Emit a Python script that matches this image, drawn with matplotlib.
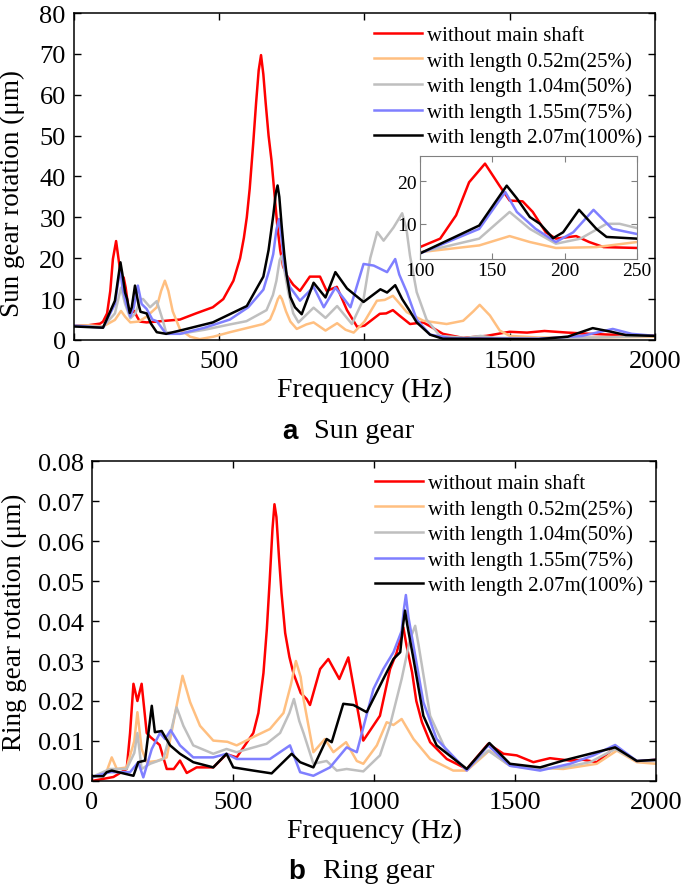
import numpy as np
import matplotlib
matplotlib.use('Agg')
from matplotlib import pyplot as plt

plt.rcParams['font.family'] = ['Liberation Serif', 'DejaVu Serif']

labels = ['without main shaft', 'with length 0.52m(25%)', 'with length 1.04m(50%)',
          'with length 1.55m(75%)', 'with length 2.07m(100%)']
colors = ['#ff0000', '#ffbf80', '#bfbfbf', '#7f7fff', '#000000']

# ---- sun gear (top), frequency in Hz, rotation in um
sun_red_f = [0, 50, 90, 100, 114, 125, 134, 145, 155, 162, 171, 178, 187, 194, 208, 217, 227, 250, 300, 365,
             420, 478, 514, 549, 572, 585, 595, 605, 617, 627, 636, 644, 652, 660, 670, 680, 690, 700, 710,
             720, 735, 755, 778, 812, 847, 870, 905, 940, 975, 1000, 1053, 1075, 1098, 1120, 1157, 1202,
             1230, 1270, 1340, 1420, 1500, 1560, 1620, 1700, 1776, 1850, 1900, 2000]
sun_red_v = [3.5, 3.6, 4.0, 4.5, 6.5, 12, 19.8, 24.2, 19, 15.5, 15.3, 12.8, 8, 6.5, 7.1, 5.7, 4.5, 4.3, 4.6, 5.0,
             6.5, 8, 10, 14.5, 20, 25, 30, 37, 48, 58, 66, 69.7, 65, 58, 50, 44, 36, 28, 22,
             18, 15.5, 13.5, 12, 15.5, 15.5, 12, 13, 7.3, 3.2, 3.5, 6.4, 6.5, 7.3, 6, 3.9, 4.3,
             3.2, 1.5, 0.5, 1.0, 2.0, 1.8, 2.2, 1.8, 1.5, 1.3, 1.2, 1.0]

sun_org_f = [0, 50, 100, 141, 162, 176, 194, 222, 250, 285, 300, 313, 325, 340, 365, 400, 433, 480, 537, 600,
             652, 675, 690, 702, 709, 716, 730, 745, 767, 800, 825, 866, 906, 935, 963, 1000, 1043, 1070,
             1098, 1120, 1146, 1203, 1283, 1340, 1375, 1397, 1432, 1466, 1500, 1600, 1800, 2000]
sun_org_v = [3.5, 3.6, 3.3, 4.9, 7.1, 5.7, 4.3, 4.5, 5.7, 8, 12, 14.5, 12, 7, 2.6, 0.8, 0.2, 0.8, 1.9, 3,
             3.9, 5, 7.5, 10, 10.8, 10, 7, 4.5, 2.7, 3.8, 4.3, 2.3, 4.1, 2.5, 1.8, 4.5, 9.6, 9.8,
             10.8, 9, 6.8, 4.7, 3.9, 4.7, 7, 8.6, 6, 2.3, 1.0, 0.6, 0.6, 0.8]

sun_gry_f = [0, 100, 141, 162, 176, 194, 211, 229, 238, 262, 285, 305, 317, 365, 450, 537, 594, 663, 685, 697,
             708, 715, 722, 738, 755, 773, 825, 866, 906, 957, 997, 1020, 1044, 1066, 1100, 1130, 1145, 1157,
             1180, 1214, 1260, 1350, 1400, 1450, 1600, 1800, 2000]
sun_gry_v = [3.5, 3.2, 6.5, 12.8, 8.8, 5.3, 6.5, 10, 10, 8, 9.5, 5, 1.9, 1.5, 2.5, 3.8, 4.6, 7.3, 11, 14.5,
             19.5, 20.6, 18, 11.6, 6.5, 4.3, 7.9, 5.4, 8.3, 3.9, 10, 20, 26.4, 24.3, 27.5, 31, 27, 20.6,
             11.7, 5, 1.0, 0.5, 1.0, 0.5, 0.4, 0.6, 1.0]

sun_blu_f = [0, 100, 141, 159, 167, 180, 194, 206, 220, 233, 250, 270, 285, 317, 365, 450, 537, 600, 652, 672,
             686, 697, 706, 713, 725, 743, 778, 825, 860, 900, 952, 997, 1032, 1078, 1106, 1120, 1146, 1180,
             1226, 1300, 1600, 1750, 1855, 1920, 2000]
sun_blu_v = [3.5, 3.0, 8.8, 17.5, 12.8, 8.8, 5.7, 8, 13.3, 8.8, 7.6, 5, 4.6, 1.5, 1.5, 3, 5, 8, 12.3, 17,
             21, 27, 29.6, 26, 18, 13, 9.6, 13, 8, 12.8, 8, 18.6, 18.2, 16.6, 19.8, 16, 11.7, 5,
             1.3, 0.4, 0.3, 1.0, 2.7, 1.5, 1.0]

sun_blk_f = [0, 100, 141, 160, 167, 176, 183, 192, 199, 210, 222, 229, 250, 265, 285, 317, 365, 478, 595, 652,
             670, 686, 695, 701, 707, 715, 724, 732, 745, 761, 784, 825, 866, 900, 940, 997, 1055, 1078, 1106,
             1130, 1157, 1180, 1226, 1270, 1600, 1700, 1786, 1850, 1900, 2000]
sun_blk_v = [3.3, 3.0, 9.6, 19, 16, 11.6, 10, 6.6, 8, 13.3, 8.8, 6.9, 6.5, 4, 1.9, 1.5, 2.3, 4.3, 8.3, 15.5,
             22, 30.4, 36, 37.8, 35, 28, 21, 16, 10.5, 8, 6.3, 14, 10.4, 16.6, 12.6, 9.3, 12.4, 11.6, 13.4,
             10, 7, 4.3, 1.3, 0.3, 0.2, 0.8, 2.9, 2.0, 1.2, 1.0]

# ---- ring gear (bottom)
ring_red_f = [0, 76, 123, 135, 147, 161, 176, 194, 207, 240, 265, 290, 312, 336, 371, 430, 477, 513, 572, 590,
              608, 620, 630, 640, 647, 654, 663, 672, 685, 700, 714, 740, 761, 773, 809, 838, 877, 909, 939,
              962, 1021, 1057, 1080, 1095, 1104, 1115, 1135, 1150, 1170, 1199, 1258, 1329, 1405, 1459, 1506,
              1565, 1624, 1695, 1742, 1790, 1855, 1932, 2000]
ring_red_v = [0.0, 0.001, 0.003, 0.012, 0.0243, 0.020, 0.0243, 0.012, 0.011, 0.009, 0.003, 0.003, 0.0051,
              0.002, 0.0034, 0.0034, 0.0067, 0.0059, 0.012, 0.017, 0.027, 0.038, 0.050, 0.063, 0.0692,
              0.066, 0.056, 0.047, 0.037, 0.031, 0.027, 0.022, 0.0205, 0.019, 0.028, 0.0305, 0.0255,
              0.0309, 0.019, 0.0101, 0.0163, 0.028, 0.032, 0.036, 0.0384, 0.034, 0.0272, 0.020, 0.0147,
              0.0097, 0.0055, 0.003, 0.0093, 0.0068, 0.0064, 0.0047, 0.0057, 0.0051, 0.0053, 0.0047,
              0.0084, 0.0049, 0.0053]

ring_org_f = [0, 50, 70, 88, 123, 150, 161, 176, 194, 230, 265, 300, 321, 348, 383, 430, 480, 513, 572, 631,
              679, 705, 723, 740, 750, 785, 826, 856, 901, 939, 962, 1010, 1045, 1069, 1098, 1140, 1199,
              1281, 1329, 1409, 1471, 1553, 1671, 1790, 1861, 1932, 2000]
ring_org_v = [0.001, 0.002, 0.0059, 0.003, 0.0034, 0.010, 0.0172, 0.008, 0.0047, 0.005, 0.0059, 0.0188,
              0.0263, 0.0197, 0.0138, 0.0101, 0.0098, 0.0089, 0.011, 0.013, 0.017, 0.024, 0.030, 0.026,
              0.0205, 0.0072, 0.0105, 0.0072, 0.0097, 0.005, 0.0043, 0.0089, 0.0147, 0.014, 0.0155,
              0.0105, 0.0055, 0.0026, 0.0026, 0.0076, 0.0043, 0.0034, 0.003, 0.0043, 0.0076, 0.0047, 0.0043]

ring_gry_f = [0, 64, 123, 150, 161, 176, 206, 253, 282, 300, 324, 359, 430, 477, 513, 619, 667, 700, 716, 735,
              750, 785, 832, 868, 903, 962, 1021, 1057, 1098, 1128, 1146, 1158, 1170, 1199, 1258, 1329, 1405,
              1482, 1577, 1671, 1766, 1855, 1932, 2000]
ring_gry_v = [0.001, 0.003, 0.003, 0.007, 0.012, 0.003, 0.0043, 0.0055, 0.013, 0.0184, 0.0138, 0.0089,
              0.0068, 0.008, 0.0072, 0.0093, 0.012, 0.017, 0.0205, 0.015, 0.012, 0.0043, 0.005, 0.0026,
              0.003, 0.0024, 0.0064, 0.014, 0.0255, 0.0355, 0.0388, 0.034, 0.0288, 0.0163, 0.0072, 0.003,
              0.0076, 0.0038, 0.003, 0.0034, 0.0047, 0.008, 0.005, 0.005]

ring_blu_f = [0, 64, 135, 164, 182, 212, 241, 259, 279, 312, 359, 430, 477, 513, 631, 702, 738, 785, 844, 903,
              939, 998, 1033, 1069, 1098, 1106, 1113, 1122, 1140, 1175, 1222, 1329, 1405, 1482, 1589, 1695,
              1778, 1855, 1932, 2000]
ring_blu_v = [0.001, 0.0022, 0.0022, 0.0047, 0.0009, 0.008, 0.012, 0.0105, 0.0127, 0.0089, 0.0059, 0.0059,
              0.0068, 0.0055, 0.0055, 0.0089, 0.0022, 0.0013, 0.0034, 0.0084, 0.0072, 0.023, 0.028, 0.0322,
              0.0375, 0.043, 0.0465, 0.041, 0.0338, 0.0197, 0.0105, 0.0026, 0.0089, 0.0038, 0.0026,
              0.0043, 0.0064, 0.009, 0.005, 0.0053]

ring_blk_f = [0, 40, 52, 70, 147, 164, 188, 212, 223, 247, 277, 312, 359, 430, 477, 501, 572, 637, 708, 738,
              785, 832, 850, 891, 927, 974, 1033, 1069, 1093, 1103, 1110, 1118, 1140, 1175, 1222, 1329, 1409,
              1482, 1589, 1671, 1766, 1855, 1932, 2000]
ring_blk_v = [0.0012, 0.0012, 0.0022, 0.0026, 0.0013, 0.0047, 0.0051, 0.0188, 0.0122, 0.0125, 0.0089,
              0.0068, 0.0047, 0.0034, 0.0068, 0.0034, 0.0026, 0.0019, 0.0068, 0.0047, 0.0034, 0.0105,
              0.0097, 0.0193, 0.019, 0.0172, 0.0255, 0.0305, 0.0322, 0.039, 0.0426, 0.039, 0.0305, 0.0163,
              0.0089, 0.003, 0.0095, 0.0043, 0.0034, 0.0051, 0.0068, 0.0084, 0.005, 0.0053]

sun_f = [sun_red_f, sun_org_f, sun_gry_f, sun_blu_f, sun_blk_f]
sun_v = [sun_red_v, sun_org_v, sun_gry_v, sun_blu_v, sun_blk_v]
ring_f = [ring_red_f, ring_org_f, ring_gry_f, ring_blu_f, ring_blk_f]
ring_v = [ring_red_v, ring_org_v, ring_gry_v, ring_blu_v, ring_blk_v]

TICK_FS = 19
LAB_FS = 20
LW = 1.8


def style(ax):
	ax.tick_params(direction='in', top=True, right=True, labelsize=TICK_FS, length=5, width=1)
	ax.tick_params(axis='x', pad=7)
	ax.tick_params(axis='y', pad=6)
	for s in ax.spines.values():
		s.set_linewidth(1.1)


fig = plt.figure(figsize=(6.85, 8.87), dpi=100)

ax1 = fig.add_axes([0.108, 0.6156, 0.848, 0.3686])
for f, v, c, lab in zip(sun_f, sun_v, colors, labels):
	ax1.plot(f, v, color=c, lw=LW, label=lab)
ax1.set_xlim(0, 2000)
ax1.set_ylim(0, 80)
ax1.set_xticks([0, 500, 1000, 1500, 2000])
ax1.set_yticks(range(0, 81, 10))
ax1.set_xlabel('Frequency (Hz)', fontsize=LAB_FS, labelpad=4)
ax1.set_ylabel('Sun gear rotation (μm)', fontsize=19.5)
ax1.yaxis.set_label_coords(-0.084, 0.45)
style(ax1)
ax1.legend(loc='upper right', frameon=False, fontsize=15, handlelength=2.3, handletextpad=0.25,
           labelspacing=0.28, borderaxespad=0.2, bbox_to_anchor=(1.0, 1.0))

# inset zoom on low frequency
axi = fig.add_axes([0.613, 0.7069, 0.3168, 0.1161])
for f, v, c in zip(sun_f, sun_v, colors):
	axi.plot(f, v, color=c, lw=LW)
axi.set_xlim(100, 250)
axi.set_ylim(1.7, 26)
axi.set_xticks([100, 150, 200, 250])
axi.set_yticks([10, 20])
axi.tick_params(direction='in', top=True, right=True, labelsize=14, length=4, color='#808080', pad=2)
for s in axi.spines.values():
	s.set_color('#808080')

ax2 = fig.add_axes([0.1343, 0.1184, 0.8234, 0.3607])
for f, v, c, lab in zip(ring_f, ring_v, colors, labels):
	ax2.plot(f, v, color=c, lw=LW, label=lab)
ax2.set_xlim(0, 2000)
ax2.set_ylim(0, 0.08)
ax2.set_xticks([0, 500, 1000, 1500, 2000])
ax2.set_yticks(np.arange(0, 0.081, 0.01))
ax2.yaxis.set_major_formatter(matplotlib.ticker.FormatStrFormatter('%.2f'))
ax2.set_xlabel('Frequency (Hz)', fontsize=LAB_FS, labelpad=4)
ax2.set_ylabel('Ring gear rotation (μm)', fontsize=19.5)
ax2.yaxis.set_label_coords(-0.116, 0.5)
style(ax2)
ax2.legend(loc='upper right', frameon=False, fontsize=15, handlelength=2.3, handletextpad=0.25,
           labelspacing=0.28, borderaxespad=0.2, bbox_to_anchor=(1.0, 1.0))

# panel captions
fig.text(282 / 685, 1 - 432 / 887, 'a', fontsize=20, fontweight='bold', family='Liberation Sans', va='center')
fig.text(314 / 685, 1 - 432 / 887, 'Sun gear', fontsize=20.5, va='center')
fig.text(288 / 685, 1 - 872 / 887, 'b', fontsize=20, fontweight='bold', family='Liberation Sans', va='center')
fig.text(323 / 685, 1 - 872 / 887, 'Ring gear', fontsize=20.5, va='center')

fig.savefig('out.png', dpi=100)
